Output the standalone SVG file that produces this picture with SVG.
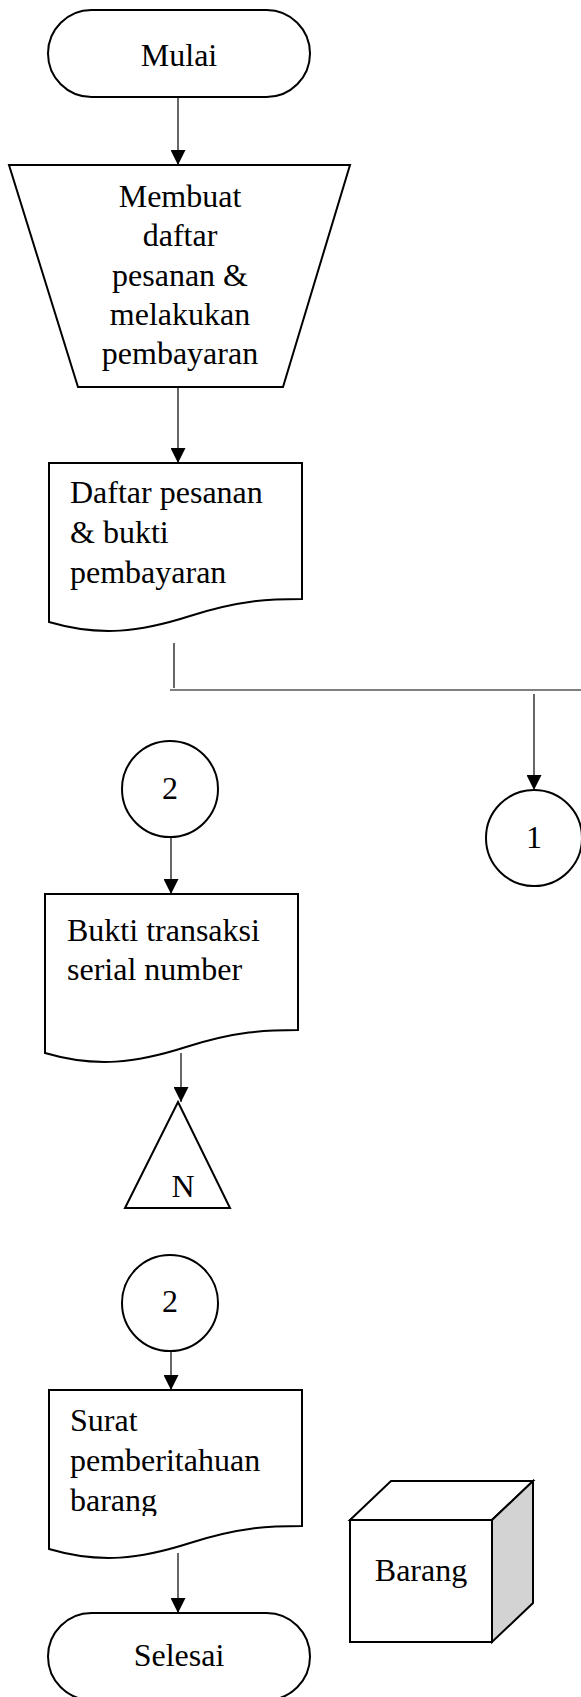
<svg xmlns="http://www.w3.org/2000/svg" width="581" height="1697" viewBox="0 0 581 1697">
<style>
.shape{fill:#fff;stroke:#000;stroke-width:2}
.conn{fill:none;stroke:#000;stroke-width:1.2}
.arrow{marker-end:url(#ah)}
text{font-family:"Liberation Serif","Times New Roman",serif;font-size:32px;fill:#000}
.c{text-anchor:middle}
</style>
<defs>
<marker id="ah" markerUnits="userSpaceOnUse" markerWidth="15" markerHeight="15" refX="15" refY="7.5" orient="auto">
<path d="M0,0 L15,7.5 L0,15 Z" fill="#000"/>
</marker>
<path id="docshape" d="M0,0 H253 V136 C221,136 191,137 141,153 C91,169 51,174 0,159 Z"/>
<clipPath id="clip3"><rect x="0" y="1380" width="581" height="136"/></clipPath>
</defs>
<rect width="581" height="1697" fill="#fff"/>
<g id="connectors">
<line class="conn arrow" x1="178" y1="97" x2="178" y2="165"/>
<line class="conn arrow" x1="178" y1="387" x2="178" y2="463"/>
<line class="conn" x1="174" y1="643" x2="174" y2="688"/>
<line class="conn" x1="170" y1="690" x2="581" y2="690"/>
<line class="conn arrow" x1="534" y1="694" x2="534" y2="790"/>
<line class="conn arrow" x1="171" y1="837" x2="171" y2="894"/>
<line class="conn arrow" x1="181" y1="1053" x2="181" y2="1102"/>
<line class="conn arrow" x1="171" y1="1351" x2="171" y2="1390"/>
<line class="conn arrow" x1="178" y1="1553" x2="178" y2="1613"/>
</g>
<g id="mulai">
<rect class="shape" x="48" y="10" width="262" height="87" rx="43.5"/>
<text class="c" x="179" y="66">Mulai</text>
</g>
<g id="membuat">
<path class="shape" d="M9,165 H350 L283,387 H78 Z"/>
<text class="c" x="180" y="207">Membuat</text>
<text class="c" x="180" y="246">daftar</text>
<text class="c" x="180" y="286">pesanan &amp;</text>
<text class="c" x="180" y="325">melakukan</text>
<text class="c" x="180" y="364">pembayaran</text>
</g>
<g id="doc1">
<use href="#docshape" class="shape" transform="translate(49,463)"/>
<text x="70" y="503">Daftar pesanan</text>
<text x="70" y="543">&amp; bukti</text>
<text x="70" y="583">pembayaran</text>
</g>
<g id="conn1">
<circle class="shape" cx="534" cy="838" r="48"/>
<text class="c" x="534" y="848">1</text>
</g>
<g id="conn2a">
<circle class="shape" cx="170" cy="789" r="48"/>
<text class="c" x="170" y="799">2</text>
</g>
<g id="doc2">
<use href="#docshape" class="shape" transform="translate(45,894)"/>
<text x="67" y="941">Bukti transaksi</text>
<text x="67" y="980">serial number</text>
</g>
<g id="offline">
<path class="shape" d="M178,1102 L230,1208 H125 Z"/>
<text class="c" x="183" y="1197">N</text>
</g>
<g id="conn2b">
<circle class="shape" cx="170" cy="1303" r="48"/>
<text class="c" x="170" y="1312">2</text>
</g>
<g id="doc3">
<use href="#docshape" class="shape" transform="translate(49,1390)"/>
<g clip-path="url(#clip3)">
<text x="70" y="1431">Surat</text>
<text x="70" y="1471">pemberitahuan</text>
<text x="70" y="1511">barang</text>
</g>
</g>
<g id="selesai">
<rect class="shape" x="48" y="1613" width="262" height="87" rx="43.5"/>
<text class="c" x="179" y="1666">Selesai</text>
</g>
<g id="barang">
<path class="shape" d="M350,1520 L391,1481 H533 L492,1520 Z"/>
<path d="M492,1520 L533,1481 V1603 L492,1642 Z" fill="#d3d3d3" stroke="#000" stroke-width="2"/>
<rect class="shape" x="350" y="1520" width="142" height="122"/>
<text class="c" x="421" y="1581">Barang</text>
</g>
</svg>
